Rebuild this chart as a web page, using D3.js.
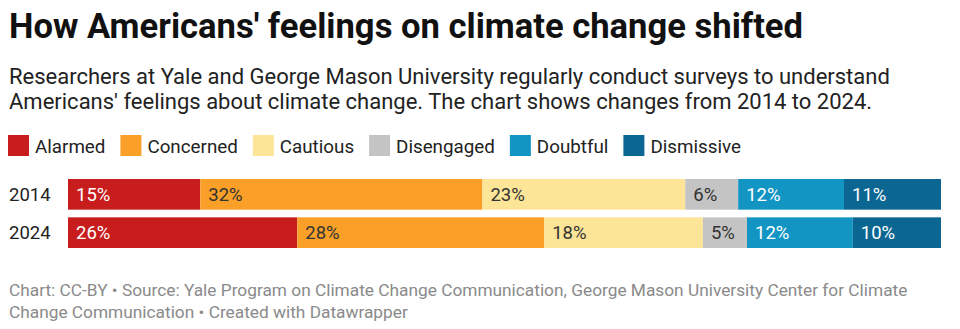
<!DOCTYPE html>
<html>
<head>
<meta charset="utf-8">
<script src="https://cdn.jsdelivr.net/npm/d3@7"></script>
<style>
  html, body { margin: 0; padding: 0; background: #fff; }
  svg { display: block; font-family: Roboto, "Noto Sans", sans-serif; }
</style>
</head>
<body>
<svg id="chart" width="960" height="329"></svg>
<script>
// Survey segments, in stacking order
const categories = ["Alarmed", "Concerned", "Cautious", "Disengaged", "Doubtful", "Dismissive"];
const years = ["2014", "2024"];
const values2014 = [15, 32, 23, 6, 12, 11];
const values2024 = [26, 28, 18, 5, 12, 10];
const colors = ["#c71e1d", "#fa9f27", "#fde597", "#c4c4c4", "#1395c4", "#0b6792"];
const labelOnDark = [true, false, false, false, true, true];

const title = "How Americans' feelings on climate change shifted";
const subtitleLines = [
  "Researchers at Yale and George Mason University regularly conduct surveys to understand",
  "Americans' feelings about climate change. The chart shows changes from 2014 to 2024."
];
const footerLines = [
  "Chart: CC-BY \u2022 Source: Yale Program on Climate Change Communication, George Mason University Center for Climate",
  "Change Communication \u2022 Created with Datawrapper"
];

const rows = [
  { year: years[0], values: values2014 },
  { year: years[1], values: values2024 }
];

const svg = d3.select("#chart");

// Header
svg.append("text")
  .attr("x", 9).attr("y", 38)
  .attr("font-size", 34.6).attr("font-weight", 700).attr("fill", "#111")
  .text(title);

svg.selectAll("text.sub")
  .data(subtitleLines).join("text")
  .attr("class", "sub")
  .attr("x", 9).attr("y", (d, i) => 84 + i * 25)
  .attr("font-size", 22).attr("fill", "#222")
  .text(d => d);

// Legend
const legend = svg.append("g").attr("transform", "translate(8,135)");
let lx = 0;
categories.forEach((c, i) => {
  const g = legend.append("g").attr("transform", `translate(${lx},0)`);
  g.append("rect").attr("width", 21).attr("height", 21).attr("fill", colors[i]);
  const t = g.append("text")
    .attr("x", 27).attr("y", 17.5)
    .attr("font-size", 18.8).attr("fill", "#222")
    .text(c);
  lx += 27 + t.node().getComputedTextLength() + 15;
});

// Bars
const left = 68, right = 941;
const y = d3.scaleBand().domain(years).range([179, 248]).paddingInner(0.2).paddingOuter(0);

rows.forEach(row => {
  const total = d3.sum(row.values);
  const x = d3.scaleLinear().domain([0, total]).range([left, right]);
  const stacked = [];
  let acc = 0;
  row.values.forEach((v, i) => { stacked.push({ i, v, x0: acc, x1: acc + v }); acc += v; });

  const g = svg.append("g");
  g.selectAll("rect").data(stacked).join("rect")
    .attr("x", d => x(d.x0))
    .attr("y", y(row.year))
    .attr("width", d => x(d.x1) - x(d.x0))
    .attr("height", y.bandwidth())
    .attr("fill", d => colors[d.i]);

  g.selectAll("text").data(stacked).join("text")
    .attr("x", d => x(d.x0) + 8)
    .attr("y", y(row.year) + y.bandwidth() / 2 + 6.5)
    .attr("font-size", 18.5)
    .attr("fill", d => labelOnDark[d.i] ? "#fff" : "#333")
    .text(d => d.v + "%");

  svg.append("text")
    .attr("x", 9)
    .attr("y", y(row.year) + y.bandwidth() / 2 + 6.5)
    .attr("font-size", 18.5).attr("fill", "#222")
    .text(row.year);
});

// Footer
svg.selectAll("text.foot")
  .data(footerLines).join("text")
  .attr("class", "foot")
  .attr("x", 9).attr("y", (d, i) => 296 + i * 22)
  .attr("font-size", 17.3).attr("fill", "#8a8a8a")
  .text(d => d);
</script>
</body>
</html>
